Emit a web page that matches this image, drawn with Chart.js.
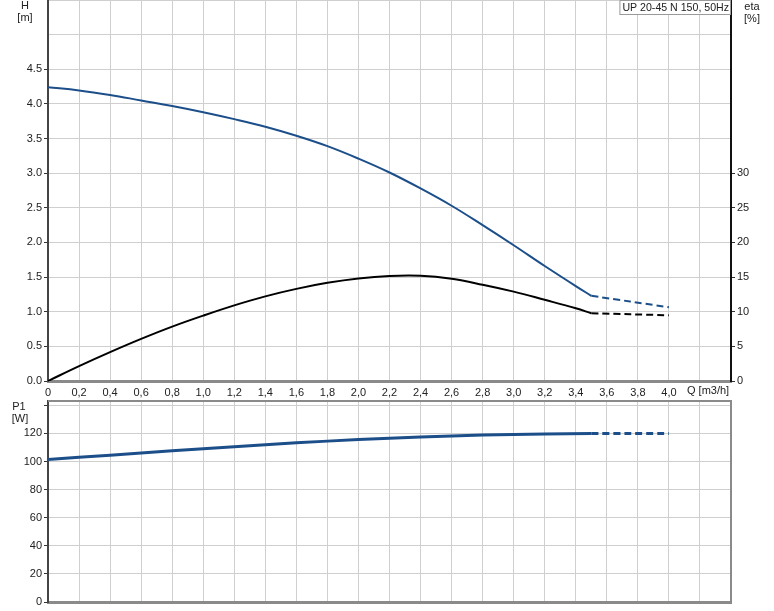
<!DOCTYPE html>
<html><head><meta charset="utf-8">
<script src="https://cdn.jsdelivr.net/npm/chart.js@4.4.1/dist/chart.umd.min.js"></script>
<style>
html,body{margin:0;padding:0;background:#fff;overflow:hidden}
#wrap{position:relative;width:774px;height:611px}
canvas{position:absolute;left:0}
</style></head><body>
<div id="wrap">
<canvas id="cTop" width="774" height="400" style="top:0"></canvas>
<canvas id="cBot" width="774" height="211" style="top:400px"></canvas>
</div>
<script>
// ---- data ----
const qMain = [0,0.2,0.4,0.6,0.8,1.0,1.2,1.4,1.6,1.8,2.0,2.2,2.4,2.6,2.8,3.0,3.2,3.4,3.5];
const hMain = [4.24,4.195,4.13,4.05,3.97,3.88,3.78,3.67,3.54,3.39,3.21,3.01,2.78,2.53,2.25,1.96,1.66,1.37,1.23];
const etaMain = [0,2.15,4.17,6.08,7.85,9.44,10.92,12.22,13.3,14.17,14.8,15.15,15.18,14.75,13.9,12.9,11.72,10.5,9.78];
const qDash = [3.5,4.0];
const hDash = [1.23,1.065];
const etaDash = [9.78,9.49];
const qP = [0,0.4,0.8,1.2,1.6,2.0,2.4,2.8,3.2,3.5];
const pMain = [101.5,104.5,107.6,110.5,113.3,115.6,117.4,118.8,119.6,120.0];
const pDash = [120.0,120.0];

const xTicks = [0,0.2,0.4,0.6,0.8,1.0,1.2,1.4,1.6,1.8,2.0,2.2,2.4,2.6,2.8,3.0,3.2,3.4,3.6,3.8,4.0,4.2,4.4];
const xLabels = ['0','0,2','0,4','0,6','0,8','1,0','1,2','1,4','1,6','1,8','2,0','2,2','2,4','2,6','2,8','3,0','3,2','3,4','3,6','3,8','4,0','',''];
const hTicks = [0,0.5,1.0,1.5,2.0,2.5,3.0,3.5,4.0,4.5,5.0,5.5];
const hLabels = ['0.0','0.5','1.0','1.5','2.0','2.5','3.0','3.5','4.0','4.5','',''];
const etaTicks = [0,5,10,15,20,25,30,35,40,45,50,55];
const etaLabels = ['0','5','10','15','20','25','30','','','','',''];
const pTicks = [0,20,40,60,80,100,120,140];
const pLabels = ['0','20','40','60','80','100','120',''];

const curveTitle = 'UP 20-45 N 150, 50Hz';

// ---- style ----
const BLUE = '#1c4f8a';
const GRID = '#cfcfcf';
const FONT = "11px 'Liberation Sans', Arial, sans-serif";
Chart.defaults.font.family = "'Liberation Sans', Arial, sans-serif";
Chart.defaults.font.size = 11;
Chart.defaults.color = '#222';

const pts = (xs, ys) => xs.map((x, i) => ({x: x, y: ys[i]}));
const setTicks = arr => (s => { s.ticks = arr.map(v => ({value: v})); });
const fitY = w => (s => { s.width = w; s.paddingTop = 0; s.paddingBottom = 0; });
const fitX = h => (s => { s.height = h; s.paddingLeft = 0; s.paddingRight = 0; });
const tickCol = labels => (c => (labels[c.index] ? '#333' : 'rgba(0,0,0,0)'));

const textPlugin = {
  id: 'texts',
  afterDraw(chart, args, opts) {
    const ctx = chart.ctx;
    const a = chart.chartArea;
    ctx.save();
    ctx.fillStyle = '#222';
    ctx.font = FONT;
    ctx.textBaseline = 'middle';
    (opts.items || []).forEach(t => {
      ctx.textAlign = t.align || 'center';
      ctx.fillText(t.text, t.x, t.y);
    });
    if (opts.box) {
      const b = opts.box;
      ctx.font = "10.6px 'Liberation Sans', Arial, sans-serif";
      const w = ctx.measureText(b.text).width + 5;
      ctx.fillStyle = '#fff';
      ctx.fillRect(a.right - w, a.top, w, 15);
      ctx.strokeStyle = '#9a9a9a';
      ctx.lineWidth = 1;
      ctx.strokeRect(a.right - w + 0.5, a.top + 0.5, w - 1, 14);
      ctx.fillStyle = '#222';
      ctx.textAlign = 'left';
      ctx.fillText(b.text, a.right - w + 3, a.top + 8);
    }
    if (opts.frame) {
      ctx.strokeStyle = '#8a8a8a';
      ctx.lineWidth = 2;
      ctx.beginPath();
      ctx.moveTo(a.left, a.top + 1);
      ctx.lineTo(a.right, a.top + 1);
      ctx.lineTo(a.right, a.bottom);
      ctx.stroke();
    }
    ctx.restore();
  }
};

const lineDs = (data, color, axis, dash, width) => ({
  data: data, borderColor: color, borderWidth: width || 2, yAxisID: axis,
  borderDash: dash ? [7, 4] : [], pointRadius: 0, fill: false,
  tension: 0.4, borderCapStyle: 'butt', borderJoinStyle: 'round'
});

// ---- top chart ----
new Chart(document.getElementById('cTop'), {
  type: 'line',
  data: {
    datasets: [
      lineDs(pts(qMain, hMain), BLUE, 'y', false),
      lineDs(pts(qDash, hDash), BLUE, 'y', true),
      lineDs(pts(qMain, etaMain), '#000', 'y2', false),
      lineDs(pts(qDash, etaDash), '#000', 'y2', true)
    ]
  },
  options: {
    responsive: false, animation: false, devicePixelRatio: 1,
    layout: {padding: 0},
    plugins: {
      legend: {display: false}, tooltip: {enabled: false},
      texts: {
        items: [
          {text: 'H', x: 25, y: 6}, {text: '[m]', x: 25, y: 18},
          {text: 'eta', x: 752, y: 7}, {text: '[%]', x: 752, y: 19},
          {text: 'Q [m3/h]', x: 687, y: 391, align: 'left'}
        ],
        box: {text: curveTitle}
      }
    },
    scales: {
      x: {
        type: 'linear', min: 0, max: 4.4,
        afterBuildTicks: setTicks(xTicks),
        afterFit: fitX(19),
        ticks: {callback: (v, i) => xLabels[i], maxRotation: 0, autoSkip: false, padding: 5},
        grid: {color: GRID, drawTicks: false},
        border: {color: '#8a8a8a', width: 3}
      },
      y: {
        type: 'linear', position: 'left', min: 0, max: 5.5,
        afterBuildTicks: setTicks(hTicks),
        afterFit: fitY(48),
        ticks: {callback: (v, i) => hLabels[i], padding: 2, autoSkip: false},
        grid: {color: GRID, tickColor: tickCol(hLabels), tickLength: 4},
        border: {color: '#444', width: 2}
      },
      y2: {
        type: 'linear', position: 'right', min: 0, max: 55,
        afterBuildTicks: setTicks(etaTicks),
        afterFit: fitY(43),
        ticks: {callback: (v, i) => etaLabels[i], padding: 2, autoSkip: false},
        grid: {drawOnChartArea: false, tickColor: tickCol(etaLabels), tickLength: 4},
        border: {color: '#111', width: 2}
      }
    }
  },
  plugins: [textPlugin]
});

// ---- bottom chart ----
new Chart(document.getElementById('cBot'), {
  type: 'line',
  data: {
    datasets: [
      lineDs(pts(qP, pMain), BLUE, 'y', false, 3),
      lineDs(pts(qDash, pDash), BLUE, 'y', true, 3)
    ]
  },
  options: {
    responsive: false, animation: false, devicePixelRatio: 1,
    layout: {padding: {top: 0, right: 43, left: 0, bottom: 0}},
    plugins: {
      legend: {display: false}, tooltip: {enabled: false},
      texts: {
        items: [
          {text: 'P1', x: 19, y: 7}, {text: '[W]', x: 20, y: 19}
        ],
        frame: true
      }
    },
    scales: {
      x: {
        type: 'linear', min: 0, max: 4.4,
        afterBuildTicks: setTicks(xTicks),
        afterFit: fitX(9),
        ticks: {display: false},
        grid: {color: GRID, drawTicks: false},
        border: {color: '#8a8a8a', width: 3}
      },
      y: {
        type: 'linear', position: 'left', min: 0, max: 143.8,
        afterBuildTicks: setTicks(pTicks),
        afterFit: fitY(48),
        ticks: {callback: (v, i) => pLabels[i], padding: 2, autoSkip: false},
        grid: {color: GRID, tickColor: '#333', tickLength: 4},
        border: {color: '#444', width: 2}
      }
    }
  },
  plugins: [textPlugin]
});
</script>
</body></html>
